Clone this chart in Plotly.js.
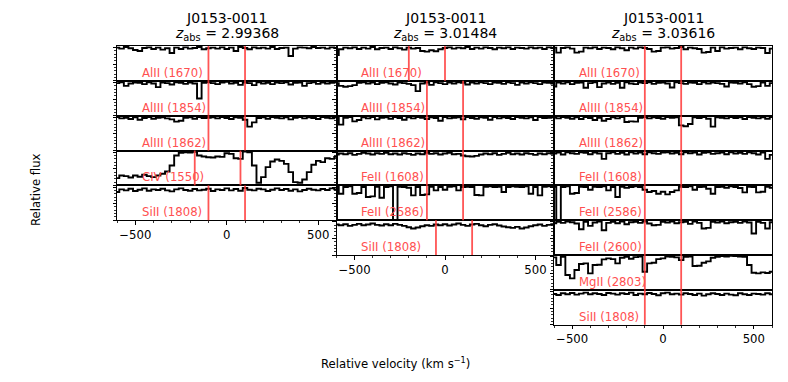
<!DOCTYPE html>
<html>
<head>
<meta charset="utf-8">
<script src="https://cdn.plot.ly/plotly-3.0.1.min.js"></script>
<style>html,body{margin:0;padding:0;background:#fff;}#chart{width:788px;height:382px;}</style>
</head>
<body>
<div id="chart"></div>
<script>
// Velocity grid (km/s)
const vel = [-600,-575,-550,-525,-500,-475,-450,-425,-400,-375,-350,-325,-300,-275,-250,-225,-200,-175,-150,-125,-100,-75,-50,-25,0,25,50,75,100,125,150,175,200,225,250,275,300,325,350,375,400,425,450,475,500,525,550,575,600];

// Column titles
const sightline = ["J0153-0011","J0153-0011","J0153-0011"];
const zabs = ["2.99368","3.01484","3.03616"];

// Column 1 (z = 2.99368)
const col1_labels = ["AlII (1670)","AlIII (1854)","AlIII (1862)","CIV (1550)","SiII (1808)"];
const col1_lo = [-100,-100,-100,-175,-100];
const col1_hi = [100,100,100,75,100];
const c1_AlII_1670 = [1.00,0.97,1.02,0.98,0.93,0.90,0.99,1.01,0.96,1.00, 0.94,0.98,0.84,1.00,0.96,1.01,0.97,0.99,1.02,0.95, 0.98,1.00,0.97,1.01,0.96,1.00,0.90,1.02,0.99,0.95, 1.01,0.98,1.00,0.97,1.02,0.96,0.99,1.00,0.75,0.97, 1.01,1.00,0.98,1.02,0.99,1.00,0.97,1.01,0.99];
const c1_AlIII_1854 = [0.98,1.01,0.90,0.97,1.00,0.99,0.95,1.01,0.97,0.86, 1.00,0.98,0.94,1.01,0.99,0.96,1.00,0.97,0.52,0.99, 1.01,0.98,0.95,1.00,1.02,0.97,0.99,0.93,1.00,0.98, 0.92,1.01,0.97,0.99,0.95,1.00,0.98,1.01,0.94,0.99, 1.00,0.90,0.98,1.01,0.96,1.00,0.97,0.99,1.01];
const c1_AlIII_1862 = [1.01,0.97,0.99,0.95,1.00,0.93,0.98,1.01,0.96,0.99, 1.00,0.97,0.94,0.87,0.90,0.99,1.00,0.96,1.01,0.98, 0.99,1.00,0.97,1.01,0.98,0.95,1.00,0.99,0.93,0.72, 0.85,0.98,1.00,0.96,1.01,0.99,0.97,1.00,0.94,0.99, 1.01,0.97,1.00,0.98,0.95,1.01,0.99,0.97,1.00];
const c1_CIV_1550 = [0.22,0.30,0.28,0.24,0.30,0.26,0.32,0.28,0.25,0.30, 0.35,0.42,0.60,0.90,0.98,1.00,0.99,1.01,0.90,0.87, 0.85,0.84,0.87,0.86,0.97,0.95,0.82,0.80,1.02,1.00, 0.60,0.08,0.25,0.55,0.72,0.78,0.74,0.65,0.40,0.10, 0.08,0.18,0.40,0.62,0.74,0.70,0.82,0.80,0.86];
const c1_SiII_1808 = [0.85,0.93,0.90,0.95,0.88,0.92,0.96,0.89,0.93,0.91, 0.95,0.90,0.87,0.93,0.96,0.91,0.89,0.94,0.90,0.92, 0.95,0.88,0.93,0.91,0.96,0.90,0.94,0.89,0.97,0.92, 0.90,0.95,0.93,0.88,0.92,0.96,0.91,0.94,0.89,0.93, 0.87,0.91,0.95,0.92,0.90,0.94,0.91,0.96,0.93];

// Column 2 (z = 3.01484)
const col2_labels = ["AlII (1670)","AlIII (1854)","AlIII (1862)","FeII (1608)","FeII (2586)","SiII (1808)"];
const col2_lo = [-200,-100,-100,-100,-100,-50];
const col2_hi = [0,100,100,100,100,150];
const c2_AlII_1670 = [0.78,0.95,1.00,0.98,1.01,0.96,1.00,0.97,1.02,0.95, 0.99,1.00,0.96,1.01,0.98,0.94,1.00,0.97,0.99,0.90, 0.88,0.92,0.89,0.95,0.99,1.01,0.97,1.00,0.98,1.02, 0.96,1.00,0.97,1.01,0.99,0.95,1.00,0.98,1.01,0.96, 1.00,0.99,0.97,1.01,0.98,1.00,0.96,1.01,0.99];
const c2_AlIII_1854 = [0.98,0.90,0.87,0.89,0.92,0.99,1.01,0.97,1.00,0.95, 0.99,1.01,0.97,0.94,1.00,0.98,0.96,0.92,0.74,0.97, 1.00,0.93,1.01,0.98,0.95,1.00,0.97,1.01,0.99,0.94, 1.00,0.97,1.01,0.98,0.95,1.00,0.99,0.96,1.01,0.98, 0.93,1.00,0.97,1.01,0.98,0.95,1.00,0.99,0.97];
const c2_AlIII_1862 = [1.00,0.78,0.99,1.01,0.88,0.92,1.00,0.97,1.01,0.94, 0.99,1.00,0.96,1.01,0.98,0.93,1.00,0.97,1.01,0.99, 0.95,1.00,0.98,0.90,1.01,0.97,0.99,1.00,0.94,1.01, 0.98,0.96,1.00,0.99,0.93,1.01,0.97,1.00,0.98,0.95, 1.01,0.99,0.97,1.00,0.92,1.01,0.98,0.99,1.00];
const c2_FeII_1608 = [0.93,0.96,0.94,0.97,0.92,0.95,0.98,0.96,0.93,0.97, 0.95,0.98,0.94,0.96,0.93,0.97,0.95,0.92,0.96,0.94, 0.98,0.95,0.97,0.93,0.96,0.98,0.94,0.95,0.90,0.88, 0.87,0.89,0.93,0.96,0.94,0.97,0.92,0.95,0.98,0.94, 0.96,0.93,0.97,0.95,0.92,0.96,0.94,0.97,0.95];
const c2_FeII_2586 = [1.01,0.80,1.00,1.02,0.80,0.82,1.00,0.70,0.72,1.01, 0.68,1.00,1.02,0.00,1.01,1.00,0.98,0.75,1.00,0.76, 0.78,1.01,0.90,1.00,0.92,1.01,1.02,0.90,1.00,1.01, 1.00,0.76,0.75,1.01,1.02,1.00,1.01,0.85,1.00,1.02, 1.01,1.00,1.02,0.80,1.00,0.75,1.01,1.02,1.00];
const c2_SiII_1808 = [0.92,0.90,0.93,0.88,0.91,0.94,0.90,0.92,0.95,0.91, 0.89,0.93,0.90,0.94,0.91,0.88,0.84,0.80,0.83,0.87, 0.90,0.88,0.92,0.90,0.93,0.89,0.92,0.95,0.91,0.88, 0.92,0.94,0.90,0.87,0.91,0.93,0.89,0.86,0.84,0.82, 0.85,0.80,0.83,0.87,0.90,0.92,0.88,0.91,0.93];

// Column 3 (z = 3.03616)
const col3_labels = ["AlII (1670)","AlIII (1854)","AlIII (1862)","FeII (1608)","FeII (2586)","FeII (2600)","MgII (2803)","SiII (1808)"];
const col3_lo = [-100,-100,-100,-100,-100,-100,-100,-100];
const col3_hi = [100,100,100,100,100,100,100,100];
const c3_AlII_1670 = [1.00,0.85,0.99,1.01,0.97,0.85,0.88,1.00,0.98,1.01, 0.96,1.00,0.99,0.95,1.01,0.98,0.92,1.00,0.97,1.01, 0.99,0.96,0.88,0.90,1.00,1.01,0.97,0.99,1.02,0.95, 1.00,0.98,0.96,0.85,0.87,1.00,0.90,1.01,0.97,0.99, 1.00,0.95,1.01,0.98,0.96,1.00,0.99,0.84,0.97];
const c3_AlIII_1854 = [0.88,1.00,0.97,1.01,0.95,0.99,1.00,0.84,0.98,1.01, 0.86,0.97,1.00,0.96,0.99,0.84,1.01,0.97,0.95,1.00, 0.98,1.01,0.96,0.99,1.00,0.97,0.85,1.01,0.98,0.96, 1.00,0.99,0.95,1.01,0.97,1.00,0.98,0.96,0.88,1.00, 0.99,0.97,1.01,0.95,0.87,0.89,1.00,0.90,0.98];
const c3_AlIII_1862 = [1.00,0.97,1.01,0.99,0.96,1.00,0.95,1.01,0.98,0.92, 0.99,0.90,0.95,1.00,0.97,1.01,0.86,0.88,0.87,0.99, 1.01,0.97,1.00,0.98,0.96,1.01,0.99,1.00,0.76,0.73, 0.80,1.00,0.98,1.01,0.96,0.72,1.00,0.99,0.97,1.01, 0.98,1.00,0.95,1.01,0.99,0.97,1.00,0.96,1.01];
const c3_FeII_1608 = [0.96,0.99,0.93,1.00,0.97,0.95,1.00,0.98,0.94,0.99, 0.96,0.80,0.97,1.00,0.95,0.98,0.93,1.00,0.96,0.99, 0.94,1.00,0.97,0.95,0.99,1.00,0.96,0.98,0.94,1.00, 0.97,0.99,0.93,0.98,1.00,0.95,0.97,0.99,0.94,1.00, 0.96,0.98,0.95,1.00,0.97,0.93,0.99,0.80,0.92];
const c3_FeII_2586 = [1.01,0.00,1.00,1.02,0.80,0.82,1.01,1.00,0.92,1.01, 1.00,1.02,0.90,1.00,0.70,1.01,0.98,1.00,1.02,1.00, 0.92,0.85,0.88,0.80,0.86,0.78,0.85,0.90,1.01,1.00, 1.02,0.92,1.00,1.01,0.95,0.80,1.00,1.01,0.98,1.02, 1.00,0.97,0.84,1.01,1.00,0.84,0.86,1.01,0.98];
const c3_FeII_2600 = [0.96,1.00,0.97,1.01,0.99,0.95,0.78,1.00,0.88,0.98, 1.01,0.75,0.97,1.00,0.96,1.01,0.93,0.99,1.00,0.97, 1.01,0.95,0.90,0.91,1.00,0.98,1.01,0.96,0.99,1.00, 0.94,1.01,0.97,0.80,0.82,1.00,0.98,1.01,0.96,0.99, 1.00,0.97,1.01,0.98,0.65,1.00,0.97,0.80,0.99];
const c3_MgII_2803 = [0.98,0.75,1.00,0.45,0.35,0.60,0.78,0.80,0.50,0.75, 0.76,0.92,0.95,0.93,0.80,0.97,1.00,0.94,0.99,1.01, 0.55,0.80,0.82,0.93,0.95,1.01,1.00,0.98,0.90,1.00, 1.01,0.72,0.73,0.82,0.86,0.97,1.00,1.02,1.01,1.03, 1.02,1.01,1.00,0.75,0.52,0.50,0.53,0.51,0.55];
const c3_SiII_1808 = [0.93,0.90,0.95,0.92,0.96,0.91,0.94,0.97,0.92,0.95, 0.93,0.90,0.96,0.94,0.91,0.95,0.93,0.97,0.90,0.94, 0.92,0.96,0.93,0.89,0.95,0.97,0.92,0.94,0.91,0.95, 0.93,0.90,0.94,0.88,0.92,0.95,0.93,0.90,0.94,0.91, 0.89,0.95,0.92,0.90,0.94,0.93,0.91,0.95,0.92];

const columns = [
  {labels: col1_labels, lo: col1_lo, hi: col1_hi, flux: [c1_AlII_1670, c1_AlIII_1854, c1_AlIII_1862, c1_CIV_1550, c1_SiII_1808]},
  {labels: col2_labels, lo: col2_lo, hi: col2_hi, flux: [c2_AlII_1670, c2_AlIII_1854, c2_AlIII_1862, c2_FeII_1608, c2_FeII_2586, c2_SiII_1808]},
  {labels: col3_labels, lo: col3_lo, hi: col3_hi, flux: [c3_AlII_1670, c3_AlIII_1854, c3_AlIII_1862, c3_FeII_1608, c3_FeII_2586, c3_FeII_2600, c3_MgII_2803, c3_SiII_1808]}
];

// Geometry (pixels)
const W = 788, HH = 382;
const colX = [[117, 336.5], [336.5, 553.5], [554, 772]];
const TOP = 46, PH = 34.85;
const FONT = "DejaVu Sans, Verdana, sans-serif";
const RED_LINE = "rgba(255,55,55,0.85)";
const RED_TEXT = "rgb(255,80,80)";

const traces = [];
const shapes = [];
const annotations = [];
const layout = {
  width: W, height: HH,
  margin: {l: 0, r: 0, t: 0, b: 0},
  paper_bgcolor: "#fff", plot_bgcolor: "#fff",
  showlegend: false,
  font: {family: FONT, color: "#000", size: 11.7}
};

let n = 0;
columns.forEach((col, ci) => {
  const [x0, x1] = colX[ci];
  const nrows = col.flux.length;
  col.flux.forEach((f, ri) => {
    n++;
    const sfx = n === 1 ? "" : String(n);
    const xr = "x" + sfx, yr = "y" + sfx;
    const top = TOP + ri * PH, bot = top + PH;
    const last = ri === nrows - 1;
    traces.push({
      x: vel, y: f, xaxis: xr, yaxis: yr, type: "scatter", mode: "lines",
      line: {shape: "hvh", color: "#000", width: 1.9}, hoverinfo: "skip"
    });
    layout["xaxis" + sfx] = {
      domain: [x0 / W, x1 / W], range: [-600, 600], anchor: yr,
      showline: true, mirror: true, linecolor: "#000", linewidth: 1,
      showgrid: false, zeroline: false,
      ticks: last ? "outside" : "", tick0: 0, dtick: 500, ticklen: 3.5, tickwidth: 1, tickcolor: "#000",
      showticklabels: last, tickfont: {family: FONT, size: 11.7, color: "#000"},
      minor: last ? {dtick: 100, ticks: "outside", ticklen: 2, tickwidth: 0.8, tickcolor: "#000", showgrid: false} : {ticks: "", showgrid: false}
    };
    layout["yaxis" + sfx] = {
      domain: [1 - bot / HH, 1 - top / HH], range: [0, 1.05], anchor: xr,
      showline: true, mirror: true, linecolor: "#000", linewidth: 1,
      showgrid: false, zeroline: false,
      ticks: "outside", tick0: 0, dtick: 0.5, ticklen: 3.5, tickwidth: 1, tickcolor: "#000",
      showticklabels: false,
      minor: {dtick: 0.1, ticks: "outside", ticklen: 2, tickwidth: 0.8, tickcolor: "#000", showgrid: false}
    };
    [col.lo[ri], col.hi[ri]].forEach(v => {
      shapes.push({type: "line", xref: xr, yref: yr + " domain", x0: v, x1: v, y0: 0, y1: 1,
        line: {color: RED_LINE, width: 1.8}});
    });
    annotations.push({
      xref: xr, yref: yr + " domain", x: -470, y: 0, xanchor: "left", yanchor: "bottom",
      text: col.labels[ri], showarrow: false, borderpad: 0,
      font: {family: FONT, size: 11.7, color: RED_TEXT}
    });
  });
  const cx = (x0 + x1) / 2 / W;
  annotations.push({xref: "paper", yref: "paper", x: cx, y: 1 - 18 / HH, xanchor: "center", yanchor: "middle",
    text: sightline[ci], showarrow: false, font: {family: FONT, size: 14, color: "#000"}});
  annotations.push({xref: "paper", yref: "paper", x: cx, y: 1 - 34 / HH, xanchor: "center", yanchor: "middle",
    text: "<i>z</i><sub>abs</sub> = " + zabs[ci], showarrow: false, font: {family: FONT, size: 14, color: "#000"}});
});

annotations.push({xref: "paper", yref: "paper", x: 36 / W, y: 1 - 190 / HH, xanchor: "center", yanchor: "middle",
  text: "Relative flux", textangle: -90, showarrow: false, font: {family: FONT, size: 11.7, color: "#000"}});
annotations.push({xref: "paper", yref: "paper", x: 395 / W, y: 1 - 363 / HH, xanchor: "center", yanchor: "middle",
  text: "Relative velocity (km s<sup>\u22121</sup>)", showarrow: false, font: {family: FONT, size: 11.7, color: "#000"}});

layout.shapes = shapes;
layout.annotations = annotations;

Plotly.newPlot("chart", traces, layout, {displayModeBar: false, staticPlot: true});
</script>
</body>
</html>
